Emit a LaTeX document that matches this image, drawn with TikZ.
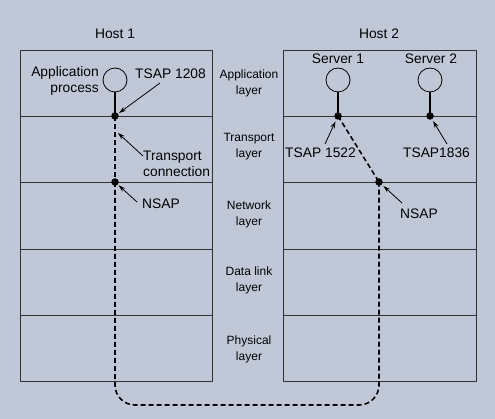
\documentclass[tikz,border=0pt]{standalone}
\usepackage{fontspec}
\setmainfont{Liberation Sans}
\usetikzlibrary{arrows.meta}
\definecolor{bgc}{RGB}{192,200,216}
\definecolor{framec}{RGB}{50,50,50}
\tikzset{
  frameline/.style={draw=framec, line width=0.9pt},
  lbl/.style={font=\fontsize{13.8}{16}\selectfont, inner sep=0pt},
  laylbl/.style={font=\fontsize{12}{16}\selectfont, inner sep=0pt, align=center},
  proc/.style={circle, draw=black, line width=0.8pt, minimum size=24pt, inner sep=0pt},
  dotn/.style={circle, fill=black, minimum size=7.5pt, inner sep=0pt},
  stem/.style={line width=1.6pt},
  conn/.style={line width=1.6pt, dash pattern=on 5pt off 3pt},
  arr/.style={line width=0.8pt, -{Stealth[length=7pt,width=4.5pt]}}
}
\begin{document}
\begin{tikzpicture}[x=1pt,y=-1pt]
\fill[bgc] (0,0) rectangle (495,419);
\useasboundingbox (0,0) rectangle (495,419);

% host frames
\draw[frameline] (20,50) rectangle (212,381);
\foreach \yy in {116,182,249,315} \draw[frameline] (20,\yy) -- (212,\yy);
\draw[frameline] (283,50) rectangle (476,381);
\foreach \yy in {116,182,249,315} \draw[frameline] (283,\yy) -- (476,\yy);

% titles
\node[lbl] (h1) at (115,34) {Host 1};
\node[lbl] (h2) at (379,34) {Host 2};

% layer labels
\node[laylbl] (la) at (249,83) {Application\\layer};
\node[laylbl] (lt) at (249,147) {Transport\\layer};
\node[laylbl] (ln) at (249,214) {Network\\layer};
\node[laylbl] (ld) at (249,280.5) {Data link\\layer};
\node[laylbl] (lp) at (249,349.5) {Physical\\layer};

% processes
\node[proc] (p1) at (115,80) {};
\node[proc] (s1) at (338,80) {};
\node[proc] (s2) at (430,80) {};

% access points
\node[dotn] (t1) at (115,116) {};
\node[dotn] (n1) at (115,182) {};
\node[dotn] (t2) at (338,116) {};
\node[dotn] (t3) at (430,116) {};
\node[dotn] (n2) at (379,182) {};

\draw[stem] (p1.south) -- (t1.center);
\draw[stem] (s1.south) -- (t2.center);
\draw[stem] (s2.south) -- (t3.center);

% transport connection
\draw[conn] (t1.center) -- (n1.center);
\draw[conn] (t2.center) -- (n2.center);
\draw[conn, rounded corners=20pt] (n1.center) -- (115,405) -- (379,405) -- (n2.center);

% labels
\node[lbl, anchor=east, align=right] (ap) at (99,81) {Application\\process};
\node[lbl] (ts1) at (170.5,74) {TSAP 1208};
\node[lbl, anchor=west, align=left] (tc) at (143,163.5) {Transport\\connection};
\node[lbl, anchor=west] (ns1) at (142,203.5) {NSAP};
\node[lbl] (srv1) at (338,59) {Server 1};
\node[lbl] (srv2) at (431,59) {Server 2};
\node[lbl] (ts2) at (320.5,153) {TSAP 1522};
\node[lbl] (ts3) at (436.5,153) {TSAP1836};
\node[lbl] (ns2) at (419,213.5) {NSAP};

% pointer arrows
\coordinate (a1s) at (160,83);
\coordinate (tcs) at (143,156);
\coordinate (tce) at (118,133);
\coordinate (n1s) at (137,202);
\coordinate (a2s) at (325,144);
\coordinate (a3s) at (447,144);
\coordinate (n2s) at (402,203);
\draw[arr, shorten >=5pt] (a1s) -- (t1.center);
\draw[arr] (tcs) -- (tce);
\draw[arr, shorten >=5pt] (n1s) -- (n1.center);
\draw[arr, shorten >=6pt] (a2s) -- (t2.center);
\draw[arr, shorten >=6pt] (a3s) -- (t3.center);
\draw[arr, shorten >=6pt] (n2s) -- (n2.center);
\end{tikzpicture}
\end{document}
